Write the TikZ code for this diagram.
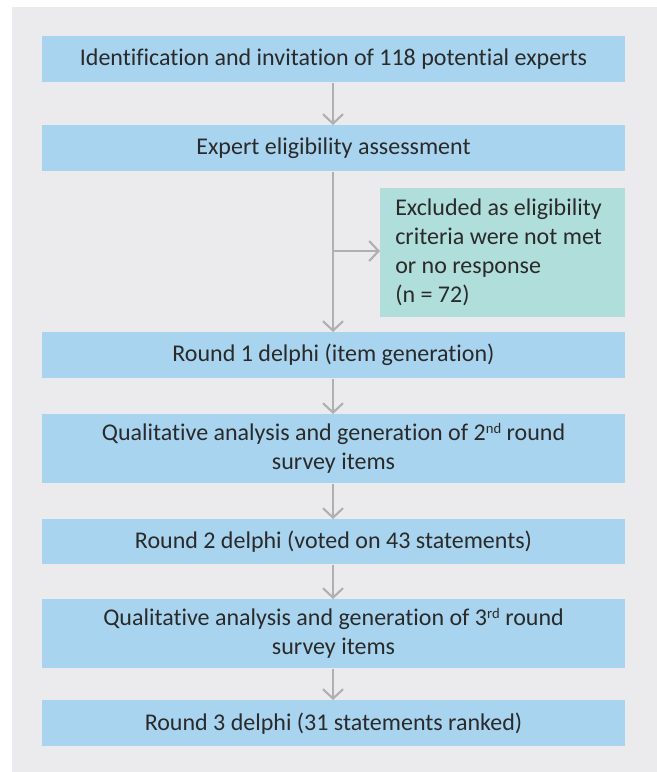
\documentclass[tikz,border=0pt]{standalone}
\usepackage{fontspec}
\setmainfont[RawFeature={-liga;-clig;-dlig;-calt}]{Carlito}
\usetikzlibrary{arrows.meta}
\definecolor{bgc}{HTML}{EBEBED}
\definecolor{boxc}{HTML}{A8D4EF}
\definecolor{exc}{HTML}{B0DFDB}
\definecolor{arc}{HTML}{B0B0B0}
\definecolor{txc}{HTML}{2A2A2A}
\newcommand{\supx}[1]{\raisebox{0.62ex}{\fontsize{11}{11}\selectfont #1}}
\tikzset{
  flowbox/.style={fill=boxc, draw=none, minimum width=583*0.75pt, align=center, text=txc, font=\fontsize{18}{21.75}\selectfont, inner sep=0pt, anchor=north},
  exbox/.style={fill=exc, draw=none, minimum width=245*0.75pt, minimum height=129*0.75pt, text width=215*0.75pt, align=flush left, text=txc, font=\fontsize{18}{21.75}\selectfont, inner sep=0pt, anchor=north west},
  flowarrow/.style={draw=arc, line width=1.6pt, -{Straight Barb[length=7pt,width=15pt,line width=1.6pt]}}
}
\begin{document}
\begin{tikzpicture}[x=0.75pt,y=-0.75pt]
\useasboundingbox (0,0) rectangle (657,772);
\fill[bgc] (12,7) rectangle (657,772);
\node[flowbox, minimum height=46*0.75pt] (b1) at (333.5,36) {Identification and invitation of 118 potential experts};
\node[flowbox, minimum height=46*0.75pt] (b2) at (333.5,125) {Expert eligibility assessment};
\node[exbox] (ex) at (380,188) {Excluded as eligibility\\criteria were not met\\or no response\\(n = 72)};
\node[flowbox, minimum height=46*0.75pt] (b3) at (333.5,332) {Round 1 delphi (item generation)};
\node[flowbox, minimum height=69*0.75pt] (b4) at (333.5,414) {Qualitative analysis and generation of 2\supx{nd} round\\survey items};
\node[flowbox, minimum height=45*0.75pt] (b5) at (333.5,519) {Round 2 delphi (voted on 43 statements)};
\node[flowbox, minimum height=69*0.75pt] (b6) at (333.5,599) {Qualitative analysis and generation of 3\supx{rd} round\\survey items};
\node[flowbox, minimum height=46*0.75pt] (b7) at (333.5,700) {Round 3 delphi (31 statements ranked)};
\coordinate (j) at (333,251);
\draw[flowarrow] (b1.south -| j) -- (b2.north -| j);
\draw[flowarrow] (b2.south -| j) -- (b3.north -| j);
\draw[flowarrow] (j) -- (ex.west |- j);
\draw[flowarrow] (b3.south -| j) -- (b4.north -| j);
\draw[flowarrow] (b4.south -| j) -- (b5.north -| j);
\draw[flowarrow] (b5.south -| j) -- (b6.north -| j);
\draw[flowarrow] (b6.south -| j) -- (b7.north -| j);
\end{tikzpicture}
\end{document}
